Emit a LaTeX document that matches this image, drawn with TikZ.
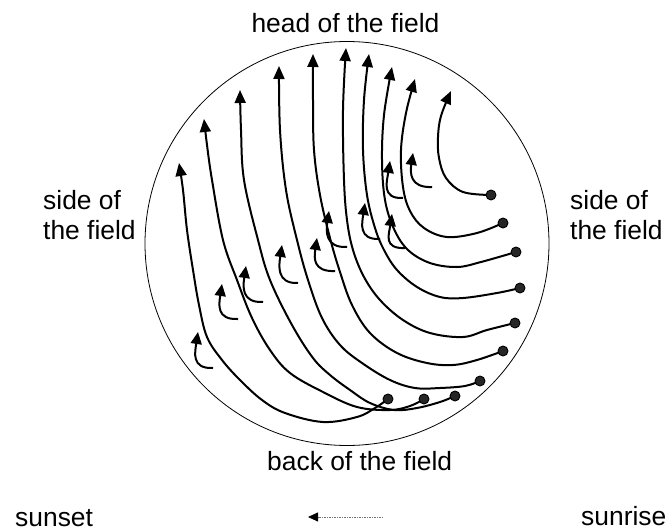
\documentclass[tikz,border=0pt]{standalone}
\usepackage{fontspec}
\setmainfont{Liberation Sans}
\usetikzlibrary{arrows.meta}
\begin{document}
\begin{tikzpicture}[x=1pt,y=-1pt,
  lbl/.style={font=\fontsize{26.4}{30}\selectfont, inner sep=0pt},
  flow/.style={line width=2pt, -{Triangle[length=13pt,width=11pt]}},
  hookarrow/.style={line width=2pt, -{Triangle[length=12pt,width=11pt]}},
  seed/.style={circle, draw=black, fill=black!85, line width=0.9pt, minimum size=10pt, inner sep=0pt},
  fieldedge/.style={circle, draw=black, line width=0.8pt, minimum size=404pt, inner sep=0pt},
  sunpath/.style={line width=0.8pt, black!55, dash pattern=on 1.5pt off 1pt, -{Triangle[length=10pt,width=9pt,color=black]}}
]
\useasboundingbox (0,0) rectangle (667,532);

% field boundary
\node[fieldedge] (field) at (347,243.5) {};

% seed points (start) and arrow tips (end)
\coordinate (d1) at (491,195);  \coordinate (a1) at (451,91);
\coordinate (d2) at (503,223);  \coordinate (a2) at (415,79);
\coordinate (d3) at (516,252);  \coordinate (a3) at (392,67);
\coordinate (d4) at (520,288);  \coordinate (a4) at (369,54);
\coordinate (d5) at (515,323);  \coordinate (a5) at (346,48);
\coordinate (d6) at (503,351);  \coordinate (a6) at (313,54);
\coordinate (d7) at (480,381);  \coordinate (a7) at (279,66);
\coordinate (d8) at (455,396);  \coordinate (a8) at (240,90);
\coordinate (d9) at (424,399);  \coordinate (a9) at (204,119);
\coordinate (d10) at (388,399); \coordinate (a10) at (179,163);

% main curved flow lines
\draw[flow] plot[smooth, tension=0.6] coordinates {(d1) (463,192) (446,178) (439,158) (438,137) (441,116) (a1)};
\draw[flow] plot[smooth, tension=0.6] coordinates {(d2) (477,233) (447,237) (424,228) (410,211) (403,187) (401,150) (406,113) (a2)};
\draw[flow] plot[smooth, tension=0.6] coordinates {(d3) (481,262) (457,267) (430,263) (408,250) (394,229) (385,200) (382,160) (384,115) (a3)};
\draw[flow] plot[smooth, tension=0.6] coordinates {(d4) (497,293) (463,298) (440,297) (417,287) (397,270) (384,250) (375,228) (367,195) (363,150) (364,100) (a4)};
\draw[flow] plot[smooth, tension=0.6] coordinates {(d5) (487,330) (463,337) (430,333) (403,320) (380,300) (364,277) (353,250) (347,220) (344,180) (343,110) (a5)};
\draw[flow] plot[smooth, tension=0.6] coordinates {(d6) (477,360) (453,365) (427,363) (397,353) (370,333) (352,305) (340,272) (330,238) (320,195) (314,150) (313,100) (a6)};
\draw[flow] plot[smooth, tension=0.6] coordinates {(d7) (465,386) (440,388) (415,388) (390,380) (362,363) (340,345) (322,318) (308,280) (297,240) (286,190) (280,130) (a7)};
\draw[flow] plot[smooth, tension=0.6] coordinates {(d8) (440,402) (417,408) (394,410) (370,403) (350,390) (330,375) (313,358) (292,325) (270,280) (258,240) (244,180) (241,130) (a8)};
\draw[flow] plot[smooth, tension=0.6] coordinates {(d9) (410,406) (390,410) (357,407) (323,392) (290,373) (270,350) (252,318) (237,280) (223,240) (212,180) (207,145) (a9)};
\draw[flow] plot[smooth, tension=0.6] coordinates {(d10) (375,408) (357,417) (323,422) (285,413) (262,400) (240,380) (222,360) (207,337) (199,305) (193,270) (187,230) (183,190) (a10)};

% small hooked arrows
\foreach \i/\tx/\ty/\ex/\ey in {1/413/153/432/187, 2/390/161/403/198, 3/365/203/380/239, 4/392/214/405/248, 5/329/211/347/247, 6/317/238/335/271, 7/282/245/298/283, 8/246/266/263/302, 9/222/284/238/319, 10/198/332/213/368}{
  \coordinate (h\i tip) at (\tx,\ty);
  \coordinate (h\i tail) at (\ex,\ey);
  \draw[hookarrow] (h\i tail) .. controls +(-22,1) and +(-3,20) .. (h\i tip);
}

% seed dots on top
\foreach \i in {1,...,10}{ \node[seed] (s\i) at (d\i) {}; }

% labels
\node[lbl, anchor=base] (head) at (345.5,33) {head of the field};
\node[lbl, anchor=base west] (back) at (267,470) {back of the field};
\node[lbl, anchor=base west] (lside1) at (43,209) {side of};
\node[lbl, anchor=base west] (lside2) at (43,239) {the field};
\node[lbl, anchor=base west] (rside1) at (570,209) {side of};
\node[lbl, anchor=base west] (rside2) at (570,239) {the field};
\node[lbl, anchor=base west] (sunset) at (15,526) {sunset};
\node[lbl, anchor=base west] (sunrise) at (581,525) {sunrise};

% sun direction arrow
\coordinate (sunfrom) at (383,517);
\coordinate (sunto) at (308,517);
\draw[sunpath] (sunfrom) -- (sunto);
\end{tikzpicture}
\end{document}
